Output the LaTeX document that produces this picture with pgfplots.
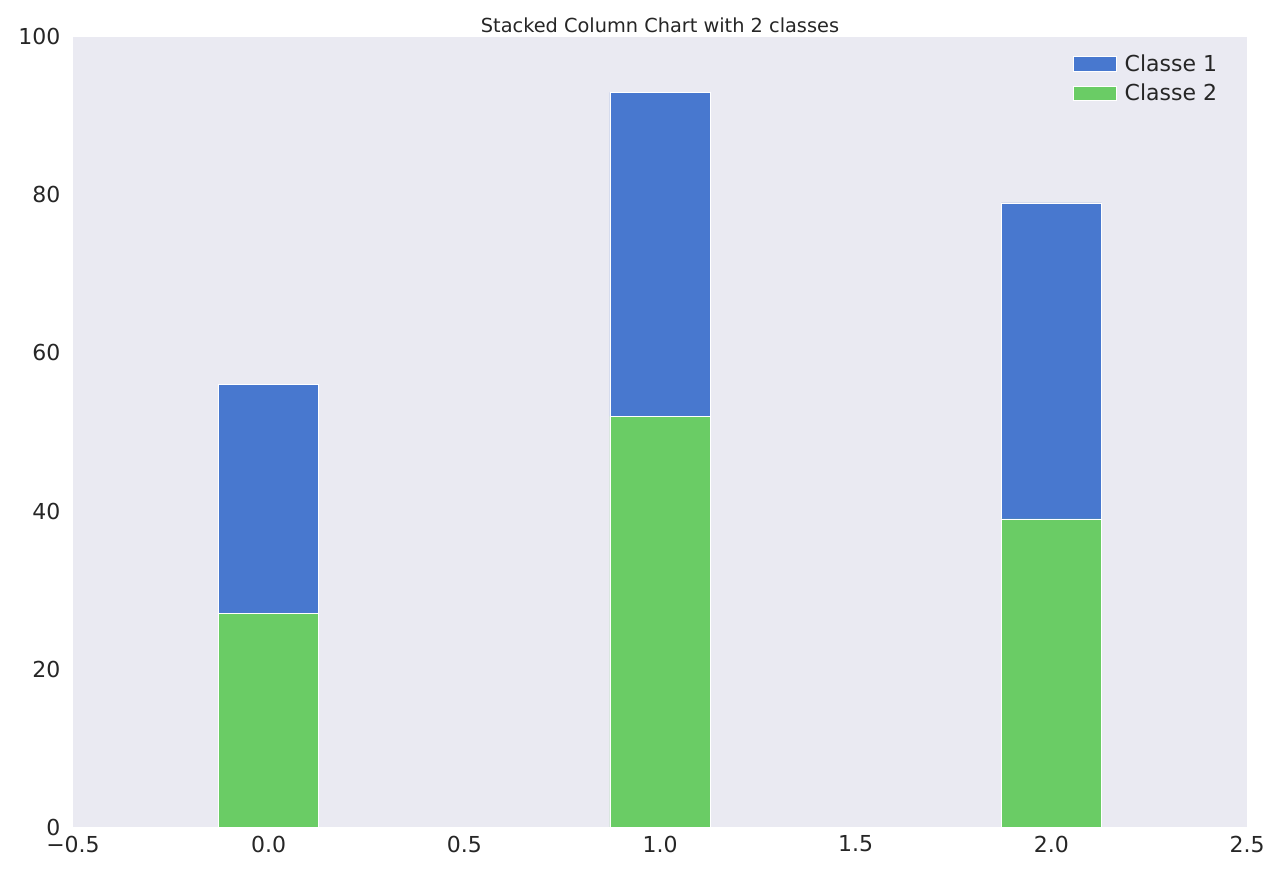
\documentclass[border=0pt]{standalone}
\usepackage{pgfplots}
\pgfplotsset{compat=1.18}
\usepackage{fontspec}
\setmainfont{DejaVu Sans}
\definecolor{bg}{HTML}{EAEAF2}
\definecolor{cb}{HTML}{4878CF}
\definecolor{cg}{HTML}{6ACC65}
\definecolor{tx}{HTML}{262626}
\begin{document}
\begin{tikzpicture}
\begin{axis}[name=ax,
  scale only axis, width=880.5pt, height=592.5pt,
  xmin=-0.5, xmax=2.5, ymin=0, ymax=100,
  xtick={-0.5,0,0.5,1,1.5,2,2.5},
  xticklabels={−0.5,0.0,0.5,1.0,1.5,2.0,2.5},
  ytick={0,20,...,100},
  axis background/.style={fill=bg},
  axis line style={draw=none},
  major tick length=0pt,
  tick label style={font=\fontsize{16.5}{19}\selectfont, text=tx},
  /pgf/number format/assume math mode=true,
  xticklabel style={yshift=-3pt},
  yticklabel style={xshift=-6pt},
  title={Stacked Column Chart with 2 classes},
  title style={font=\fontsize{14.5}{17}\selectfont, text=tx, yshift=-6pt},
  ybar stacked, bar width=0.256,
  legend style={draw=none, fill=bg, at={(0.985,0.985)}, anchor=north east,
    font=\fontsize{16.5}{19}\selectfont, text=tx, row sep=4pt,
    nodes={inner xsep=6pt}},
  legend image code/.code={\fill[#1] (0cm,-0.19cm) rectangle (1.13cm,0.19cm);},
  reverse legend,
]
\addplot[fill=cg, draw=white, line width=0.5pt] coordinates {(0,27) (1,52) (2,39)};
\addplot[fill=cb, draw=white, line width=0.5pt] coordinates {(0,29) (1,41) (2,40)};
\legend{Classe 2, Classe 1}
\end{axis}
\useasboundingbox ([xshift=-54.75pt,yshift=-39.75pt]ax.south west) rectangle ([xshift=24.75pt,yshift=27.75pt]ax.north east);
\end{tikzpicture}
\end{document}
